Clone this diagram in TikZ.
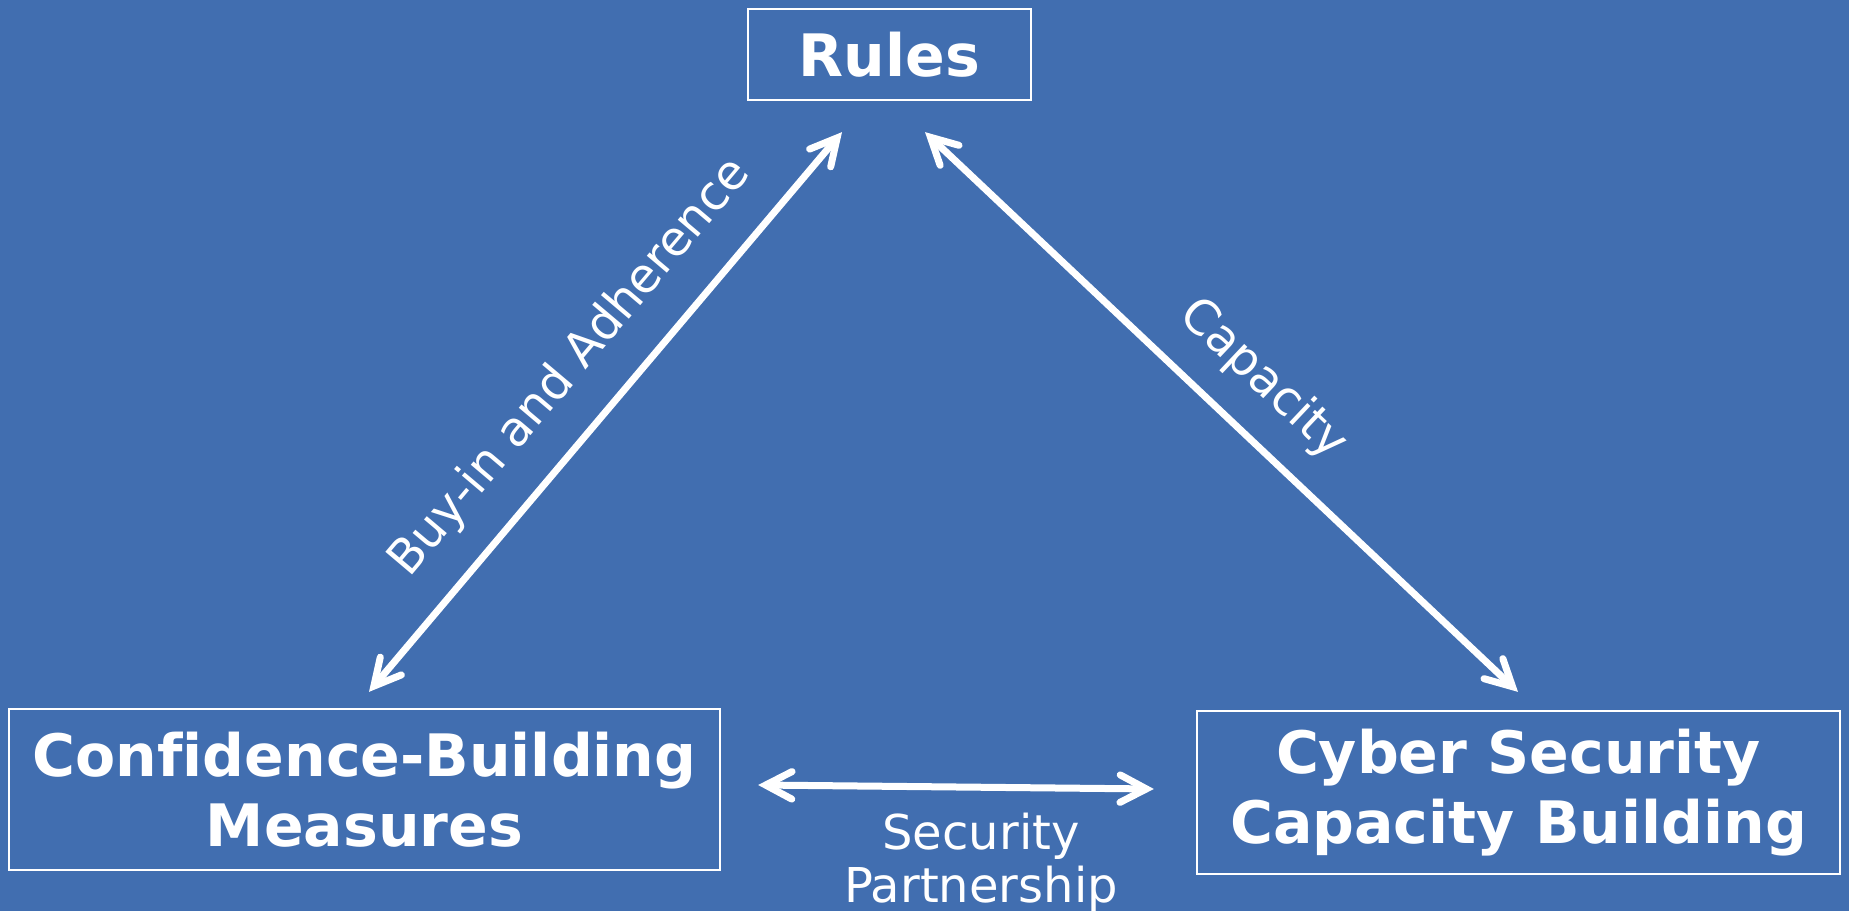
\documentclass[tikz,border=0pt]{standalone}
\usepackage{fontspec}
\setmainfont[Ligatures=NoCommon]{DejaVu Sans}
\usetikzlibrary{arrows.meta,calc}
\definecolor{bgblue}{RGB}{65,110,176}
\begin{document}
\begin{tikzpicture}[x=0.4pt,y=-0.4pt,
  box/.style={draw=white, line width=0.9pt, text=white, align=center, inner sep=0pt,
    font=\fontsize{23.4}{28.2}\selectfont\bfseries},
  barb/.tip={Straight Barb[length=10.5pt,width=11pt,line cap=round]},
  link/.style={white, line width=2.8pt, line cap=round, {barb}-{barb}},
  lbl/.style={text=white, inner sep=0pt, font=\fontsize{19.2}{21.2}\selectfont}]
% background
\fill[bgblue] (0,0) rectangle (1849,911);
\useasboundingbox (0,0) rectangle (1849,911);

% the three pillars
\node[box, minimum width=113.2pt, minimum height=36.4pt] (rules) at (889.5,54.5) {Rules};
\node[box, minimum width=284.4pt, minimum height=64.4pt] (cbm) at (364.5,789.5) {Confidence-Building\\Measures};
\node[box, minimum width=257.2pt, minimum height=65.2pt] (csc) at (1518.5,792.5) {Cyber Security\\Capacity Building};

% connector end points
\coordinate (rl) at ($(rules.south)+(-47.5,31)$);
\coordinate (rr) at ($(rules.south)+(35.5,31)$);
\coordinate (lt) at ($(cbm.north)+(4.5,-16)$);
\coordinate (rt) at ($(csc.north)+(-0.5,-18)$);
\coordinate (lh) at ($(cbm.east)+(37,-4.5)$);
\coordinate (rh) at ($(csc.west)+(-42,-3.5)$);

% relations
\draw[link] (lt) -- node[lbl, pos=0.515, sloped, above=11.4pt] {Buy-in and Adherence} (rl);
\draw[link] (rr) -- node[lbl, pos=0.51, sloped, above=10.2pt] {Capacity} (rt);
\draw[link] (lh) -- node[lbl, midway, below=9pt, xshift=10pt, align=center] {Security\\Partnership} (rh);
\end{tikzpicture}
\end{document}
